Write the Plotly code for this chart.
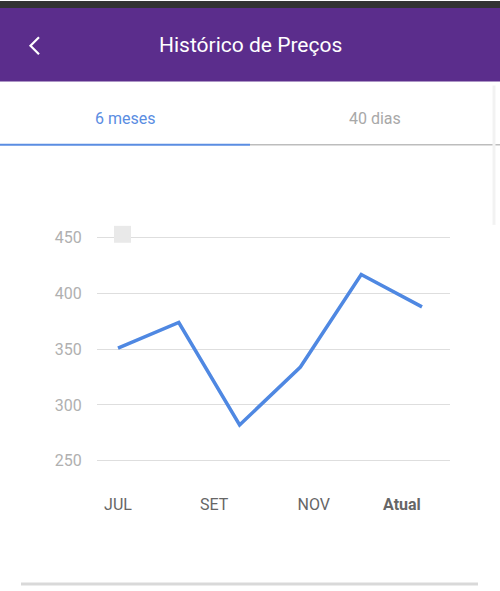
import plotly.graph_objects as go

# Data
point_index = [0, 1, 2, 3, 4, 5]
prices = [351, 374, 282, 334, 417, 388]
tick_positions = [0, 1.58, 3.22, 4.67]
tick_labels = ["JUL", "SET", "NOV", "<b>Atual</b>"]
y_ticks = [250, 300, 350, 400, 450]

W, H = 500, 591

def px(x):
    return x / W

def py(y):
    return 1 - y / H

fig = go.Figure()
fig.add_trace(go.Scatter(
    x=point_index, y=prices, mode="lines",
    line=dict(color="#4f88e2", width=3.5),
    hoverinfo="skip", showlegend=False,
))

shapes = [
    # status bar
    dict(type="rect", xref="paper", yref="paper", x0=0, x1=1, y0=py(7), y1=1,
         fillcolor="#333333", line_width=0, layer="below"),
    # purple header
    dict(type="rect", xref="paper", yref="paper", x0=0, x1=1, y0=py(81), y1=py(7),
         fillcolor="#5b2d8c", line_width=0, layer="below"),
    # back chevron
    dict(type="path", xref="paper", yref="paper",
         path=f"M {px(39)} {py(36.5)} L {px(30.5)} {py(45)} L {px(39)} {py(53.5)}",
         line=dict(color="white", width=2.2)),
    # tab underline blue
    dict(type="line", xref="paper", yref="paper", x0=0, x1=px(250), y0=py(144.5), y1=py(144.5),
         line=dict(color="#5a8de2", width=2)),
    # tab underline gray
    dict(type="line", xref="paper", yref="paper", x0=px(250), x1=1, y0=py(144.5), y1=py(144.5),
         line=dict(color="#bdbdbd", width=1.5)),
    # small gray square
    dict(type="rect", xref="paper", yref="paper", x0=px(114), x1=px(131), y0=py(243), y1=py(226),
         fillcolor="#e9e9e9", line_width=0),
    # bottom divider
    dict(type="line", xref="paper", yref="paper", x0=px(21), x1=px(478), y0=py(586), y1=py(586),
         line=dict(color="#d9d9d9", width=3)),
    # faint scrollbar
    dict(type="line", xref="paper", yref="paper", x0=px(494), x1=px(494), y0=py(225), y1=py(85),
         line=dict(color="#f2f2f2", width=3)),
]

annotations = [
    dict(text="Histórico de Preços", xref="paper", yref="paper", x=0.5, y=py(44), showarrow=False,
         font=dict(family="Roboto", size=21, color="white"), xanchor="center", yanchor="middle"),
    dict(text="6 meses", xref="paper", yref="paper", x=px(125), y=py(118), showarrow=False,
         font=dict(family="Roboto", size=16, color="#5a8de2"), xanchor="center", yanchor="middle"),
    dict(text="40 dias", xref="paper", yref="paper", x=px(375), y=py(118), showarrow=False,
         font=dict(family="Roboto", size=16, color="#a8a8a8"), xanchor="center", yanchor="middle"),
]

# axes geometry: gridlines 97..450 px; y 250 at 462 px, 450 at 238 px
x_left, x_right = 97, 450
x0_px, dx_px = 118, 60.8
y_top, y_bot = 230, 470
ppu = (462 - 238) / 200.0

fig.update_layout(
    width=W, height=H,
    margin=dict(l=0, r=0, t=0, b=0),
    paper_bgcolor="white", plot_bgcolor="white",
    font=dict(family="Roboto"),
    shapes=shapes, annotations=annotations,
    xaxis=dict(
        domain=[px(x_left), px(x_right)],
        range=[(x_left - x0_px) / dx_px, (x_right - x0_px) / dx_px],
        tickvals=tick_positions, ticktext=tick_labels,
        showgrid=False, zeroline=False, showline=False,
        ticks="outside", ticklen=21, tickcolor="rgba(0,0,0,0)",
        tickfont=dict(family="Roboto", size=16, color="#666666"),
        fixedrange=True,
    ),
    yaxis=dict(
        domain=[py(y_bot), py(y_top)],
        range=[250 - (y_bot - 462) / ppu, 450 + (238 - y_top) / ppu],
        tickvals=y_ticks,
        showgrid=True, gridcolor="#dedede", gridwidth=1,
        zeroline=False, showline=False,
        ticks="outside", ticklen=11, tickcolor="rgba(0,0,0,0)",
        tickfont=dict(family="Roboto", size=16, color="#b0b0b0"),
        fixedrange=True,
    ),
)

fig.write_html("out.html")
